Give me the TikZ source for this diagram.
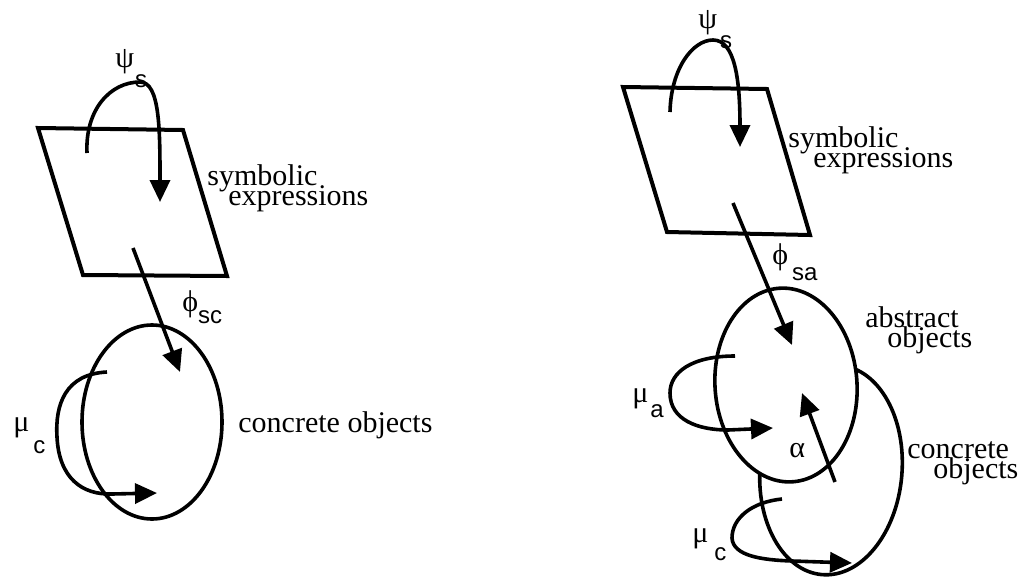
\documentclass[tikz,border=0pt]{standalone}
\usepackage{fontspec}
\setmainfont{Liberation Serif}
\newfontfamily\subfont{Liberation Sans}
\usetikzlibrary{arrows.meta,shapes.geometric}
\newcommand{\lowsub}[2]{\raisebox{-#1}{\subfont\fontsize{12}{12}\selectfont #2}}
\begin{document}
\lineskiplimit=-100pt
\lineskip=0pt
\begin{tikzpicture}[x=0.5pt,y=-0.5pt,
  sheet/.style={line width=2pt,line join=miter},
  blob/.style={draw,ellipse,line width=1.8pt,inner sep=0pt},
  maparrow/.style={line width=1.8pt,-{Triangle[length=11pt,width=10pt]}},
  word/.style={font=\fontsize{15}{10}\selectfont,align=left,anchor=base west,inner sep=0pt},
  greek/.style={font=\fontsize{15}{15}\selectfont,anchor=base west,inner sep=0pt}]
\useasboundingbox (0,0) rectangle (1018,579);
\fill[white] (0,0) rectangle (1018,579);

% ---------------- left diagram ----------------
\draw[sheet] (38,128) -- (183,130) -- (227,276) -- (83,275) -- cycle;
\node[blob,minimum width=70pt,minimum height=97pt] (conL) at (152,422) {};

\coordinate (psiLa) at (87,153);
\coordinate (psiLtop) at (140,82);
\coordinate (psiLb) at (160,202);
\draw[maparrow] (psiLa) .. controls (85,110) and (110,82) .. (psiLtop)
  .. controls (160,82) and (160,130) .. (psiLb);

\coordinate (phiLa) at (133,248);
\coordinate (phiLb) at (180,372);
\draw[maparrow] (phiLa) -- (phiLb);

\coordinate (muLa) at (107,372);
\coordinate (muLm) at (57,437);
\coordinate (muLb) at (157,493);
\draw[maparrow] (muLa) .. controls (65,374) and (55,405) .. (muLm)
  .. controls (59,478) and (82,495) .. (112,494) -- (muLb);

\node[greek] (psiL) at (115,67) {ψ\kern0.5pt\lowsub{10pt}{s}};
\node[greek] (phiL) at (182,311) {ϕ\kern0pt\lowsub{6pt}{sc}};
\node[greek] (muL) at (13,431) {μ\kern2pt\lowsub{11pt}{c}};

\node[word] (symL) at (207,205) {symbolic\\ \hspace*{10.5pt}expressions};
\node[word] (conLt) at (238,432) {concrete objects};

% ---------------- right diagram ----------------
\draw[sheet] (623,87) -- (767,89) -- (810,235) -- (667,232) -- cycle;
\node[blob,minimum width=71pt,minimum height=105pt,rotate=-5] (conR) at (831,470) {};
\node[blob,fill=white,minimum width=71pt,minimum height=97pt,rotate=4] (absR) at (786,385) {};

\coordinate (psiRa) at (670,112);
\coordinate (psiRtop) at (713,40);
\coordinate (psiRb) at (740,147);
\draw[maparrow] (psiRa) .. controls (671,68) and (693,40) .. (psiRtop)
  .. controls (735,40) and (740,80) .. (psiRb);

\coordinate (phiRa) at (733,203);
\coordinate (phiRb) at (792,345);
\draw[maparrow] (phiRa) -- (phiRb);

\coordinate (muAa) at (735,356);
\coordinate (muAm) at (670,393);
\coordinate (muAb) at (773,428);
\draw[maparrow] (muAa) .. controls (692,356) and (670,372) .. (muAm)
  .. controls (670,420) and (698,430) .. (728,430) -- (muAb);

\coordinate (muCa) at (782,499);
\coordinate (muCm) at (732,538);
\coordinate (muCb) at (852,563);
\draw[maparrow] (muCa) .. controls (752,502) and (732,518) .. (muCm)
  .. controls (733,556) and (762,560) .. (792,561) -- (muCb);

\coordinate (alA) at (835,482);
\coordinate (alB) at (802,393);
\draw[maparrow] (alA) -- (alB);

\node[greek] (psiR) at (698,28) {ψ\kern1.5pt\lowsub{10pt}{s}};
\node[greek] (phiR) at (772,264) {ϕ\kern2pt\lowsub{8pt}{sa}};
\node[greek] (muA) at (632,402) {μ\kern1pt\lowsub{7.5pt}{a}};
\node[greek] (muC) at (692,542) {μ\kern3pt\lowsub{9pt}{c}};
\node[greek] (alpha) at (789,457) {α};

\node[word] (symR) at (788,167) {symbolic\\ \hspace*{12.5pt}expressions};
\node[word] (absT) at (865,347) {abstract\\ \hspace*{11pt}objects};
\node[word] (conT) at (907,478) {concrete\\ \hspace*{13pt}objects};
\end{tikzpicture}
\end{document}
